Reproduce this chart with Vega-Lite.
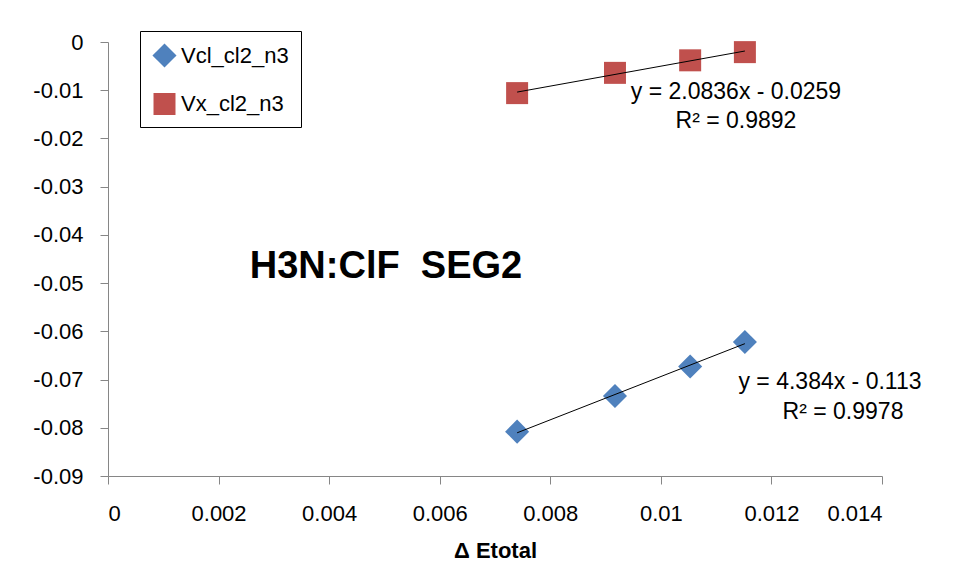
{
  "$schema": "https://vega.github.io/schema/vega-lite/v6.json",
  "width": 774,
  "height": 434,
  "autosize": "none",
  "padding": {"left": 108, "top": 42, "right": 76, "bottom": 105},
  "background": "white",
  "config": {
    "view": {"stroke": null},
    "font": "Liberation Sans",
    "axis": {
      "grid": false,
      "domainColor": "#868686",
      "tickColor": "#868686",
      "domainWidth": 1,
      "tickWidth": 1,
      "tickSize": 8,
      "labelFont": "Liberation Sans",
      "labelFontSize": 22,
      "labelColor": "#000000",
      "titleColor": "#000000"
    }
  },
  "datasets": {
    "points": [
      {"series": "Vcl_cl2_n3", "x": 0.0074, "y": -0.0808},
      {"series": "Vcl_cl2_n3", "x": 0.00917, "y": -0.0734},
      {"series": "Vcl_cl2_n3", "x": 0.01053, "y": -0.0673},
      {"series": "Vcl_cl2_n3", "x": 0.01152, "y": -0.0622},
      {"series": "Vx_cl2_n3", "x": 0.0074, "y": -0.0106},
      {"series": "Vx_cl2_n3", "x": 0.00917, "y": -0.0064},
      {"series": "Vx_cl2_n3", "x": 0.01053, "y": -0.0038},
      {"series": "Vx_cl2_n3", "x": 0.01152, "y": -0.0021}
    ]
  },
  "layer": [
    {
      "data": {"name": "points"},
      "mark": {"type": "point", "filled": true, "opacity": 1, "strokeWidth": 0},
      "encoding": {
        "x": {
          "field": "x", "type": "quantitative",
          "scale": {"domain": [0, 0.014], "nice": false, "zero": false},
          "axis": {
            "values": [0, 0.002, 0.004, 0.006, 0.008, 0.01, 0.012, 0.014],
            "format": "~g",
            "labelPadding": 19,
            "title": "Δ Etotal",
            "titleFont": "Liberation Sans",
            "titleFontSize": 22,
            "titleFontWeight": "bold",
            "titlePadding": 16
          }
        },
        "y": {
          "field": "y", "type": "quantitative",
          "scale": {"domain": [-0.09, 0], "nice": false, "zero": false},
          "axis": {
            "values": [-0.09, -0.08, -0.07, -0.06, -0.05, -0.04, -0.03, -0.02, -0.01, 0],
            "format": "~g",
            "labelExpr": "replace(datum.label, '\u2212', '-')",
            "labelPadding": 17,
            "title": null
          }
        },
        "color": {
          "field": "series", "type": "nominal",
          "scale": {"domain": ["Vcl_cl2_n3", "Vx_cl2_n3"], "range": ["#4F81BD", "#C0504D"]},
          "legend": {
            "title": null,
            "orient": "none",
            "legendX": 32,
            "legendY": -11,
            "strokeColor": "#000000",
            "fillColor": "white",
            "padding": 12,
            "rowPadding": 25,
            "symbolSize": 289,
            "symbolStrokeWidth": 0,
            "labelFont": "Liberation Sans",
            "labelFontSize": 22,
            "labelColor": "#000000",
            "labelOffset": 4,
            "labelLimit": 300
          }
        },
        "shape": {
          "field": "series", "type": "nominal",
          "scale": {"domain": ["Vcl_cl2_n3", "Vx_cl2_n3"], "range": ["diamond", "square"]},
          "legend": null
        },
        "size": {
          "field": "series", "type": "nominal",
          "scale": {"domain": ["Vcl_cl2_n3", "Vx_cl2_n3"], "range": [580, 484]},
          "legend": null
        }
      }
    },
    {
      "data": {"name": "points"},
      "transform": [{"regression": "y", "on": "x", "groupby": ["series"]}],
      "mark": {"type": "line", "color": "#000000", "strokeWidth": 1},
      "encoding": {
        "x": {"field": "x", "type": "quantitative"},
        "y": {"field": "y", "type": "quantitative"},
        "detail": {"field": "series"}
      }
    },
    {
      "data": {"values": [
        {"x": 0.011359, "y": -0.0104, "text": "y = 2.0836x - 0.0259"},
        {"x": 0.011359, "y": -0.0164, "text": "R² = 0.9892"},
        {"x": 0.013059, "y": -0.0705, "text": "y = 4.384x - 0.113"},
        {"x": 0.013295, "y": -0.0767, "text": "R² = 0.9978"}
      ]},
      "mark": {"type": "text", "font": "Liberation Sans", "fontSize": 23, "align": "center", "baseline": "middle", "color": "#000000"},
      "encoding": {
        "x": {"field": "x", "type": "quantitative"},
        "y": {"field": "y", "type": "quantitative"},
        "text": {"field": "text"}
      }
    },
    {
      "data": {"values": [
        {"x": 0.005028, "y": -0.0466, "text": "H3N:ClF\u00a0\u00a0SEG2"}
      ]},
      "mark": {"type": "text", "font": "Liberation Sans", "fontSize": 38, "fontWeight": "bold", "align": "center", "baseline": "middle", "color": "#000000"},
      "encoding": {
        "x": {"field": "x", "type": "quantitative"},
        "y": {"field": "y", "type": "quantitative"},
        "text": {"field": "text"}
      }
    }
  ]
}
